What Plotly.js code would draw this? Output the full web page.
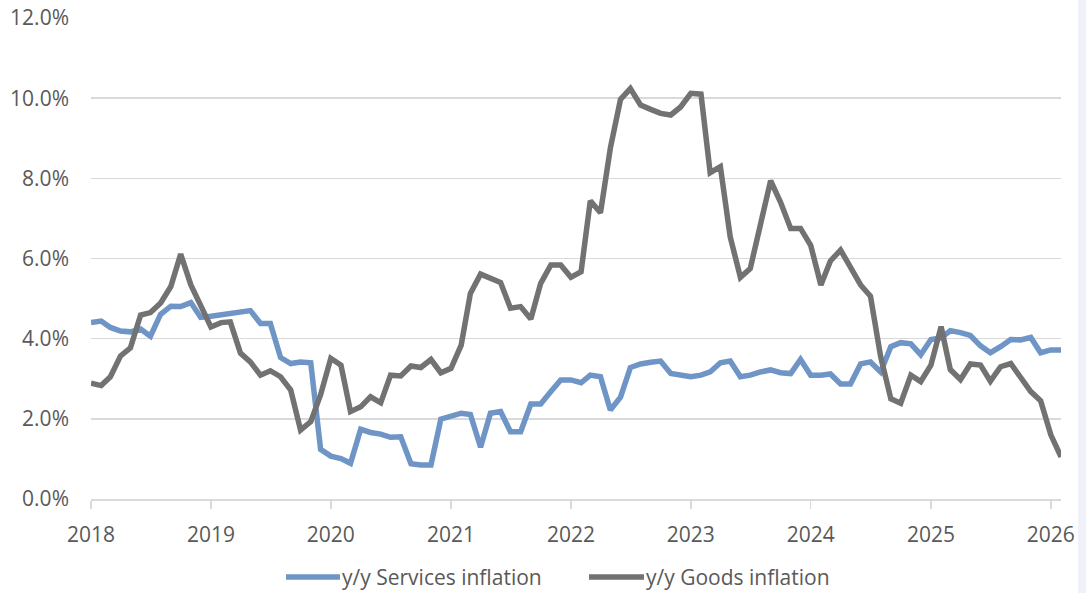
<!DOCTYPE html>
<html>
<head>
<meta charset="utf-8">
<script src="https://cdn.plot.ly/plotly-3.0.1.min.js"></script>
<style>html,body{margin:0;padding:0;background:#fff;}#chart{width:1086px;height:593px;}</style>
</head>
<body>
<div id="chart"></div>
<script>
// Monthly observations, Jan 2018 – Feb 2026
const startYear = 2018, startMonth = 1, nMonths = 98;
const services = [
  4.40, 4.44, 4.28, 4.19, 4.17, 4.24, 4.06, 4.61, 4.81, 4.80, 4.90, 4.53,
  4.56, 4.59, 4.65, 4.65, 4.70, 4.38, 4.38, 3.53, 3.38, 3.42, 3.40, 1.24,
  1.07, 1.01, 0.89, 1.74, 1.66, 1.62, 1.54, 1.55, 0.88, 0.85, 0.85, 1.99,
  2.07, 2.14, 2.11, 1.29, 2.14, 2.18, 1.68, 1.68, 2.37, 2.37, 2.68, 2.97,
  2.97, 2.90, 3.09, 3.05, 2.22, 2.54, 3.28, 3.37, 3.41, 3.44, 3.13, 3.09,
  3.05, 3.09, 3.17, 3.40, 3.44, 3.05, 3.09, 3.17, 3.22, 3.15, 3.13, 3.48,
  3.09, 3.09, 3.12, 2.87, 2.87, 3.37, 3.42, 3.17, 3.80, 3.90, 3.87, 3.60,
  3.98, 4.02, 4.20, 4.15, 4.08, 3.82, 3.65, 3.80, 3.98, 3.97, 4.03, 3.65,
  3.72, 3.72
];
const goods = [
  2.89, 2.83, 3.05, 3.57, 3.77, 4.59, 4.65, 4.89, 5.30, 6.11, 5.34, 4.80,
  4.29, 4.40, 4.42, 3.64, 3.42, 3.09, 3.20, 3.05, 2.72, 1.72, 1.93, 2.60,
  3.51, 3.34, 2.18, 2.30, 2.55, 2.40, 3.09, 3.07, 3.32, 3.28, 3.48, 3.15,
  3.26, 3.84, 5.13, 5.61, 5.50, 5.40, 4.76, 4.80, 4.49, 5.38, 5.84, 5.84,
  5.53, 5.67, 7.44, 7.14, 8.75, 9.97, 10.24, 9.83, 9.72, 9.62, 9.58, 9.78,
  10.12, 10.10, 8.14, 8.29, 6.54, 5.53, 5.75, 6.87, 7.94, 7.41, 6.75, 6.75,
  6.33, 5.34, 5.94, 6.21, 5.79, 5.34, 5.06, 3.55, 2.50, 2.39, 3.09, 2.93,
  3.34, 4.30, 3.23, 2.98, 3.37, 3.34, 2.94, 3.30, 3.38, 3.01, 2.68, 2.45,
  1.60, 1.05
];
const seriesNames = ['y/y Services inflation', 'y/y Goods inflation'];
const seriesColors = ['#6e95c5', '#727272'];
const yearTicks = ['2018','2019','2020','2021','2022','2023','2024','2025','2026'];

function monthDate(i){
  const m0 = startMonth - 1 + i;
  const y = startYear + Math.floor(m0 / 12);
  const m = (m0 % 12) + 1;
  return y + '-' + String(m).padStart(2,'0') + '-01';
}
const dates = [];
for (let i = 0; i < nMonths; i++) dates.push(monthDate(i));

const FONT = '"Open Sans", "DejaVu Sans", sans-serif';
const TXT = '#595959';
const FS = 21;

const traces = [
  {x: dates, y: services, name: seriesNames[0], type: 'scatter', mode: 'lines',
   line: {color: seriesColors[0], width: 5.5}},
  {x: dates, y: goods, name: seriesNames[1], type: 'scatter', mode: 'lines',
   line: {color: seriesColors[1], width: 5.5}}
];

// legend drawn as line samples + text (paper coordinates)
const legY = -0.1622;
const legItems = [
  {x0: 0.2010, x1: 0.2567, tx: 0.2578},
  {x0: 0.5134, x1: 0.5701, tx: 0.5712}
];
const legendShapes = legItems.map((p, i) => ({
  type: 'line', xref: 'paper', yref: 'paper', x0: p.x0, x1: p.x1, y0: legY, y1: legY,
  line: {color: seriesColors[i], width: 5.5}
}));
const legendAnn = legItems.map((p, i) => ({
  xref: 'paper', yref: 'paper', x: p.tx, y: legY, xanchor: 'left', yanchor: 'middle',
  text: seriesNames[i], showarrow: false, borderpad: 0,
  font: {family: FONT, size: 21, color: TXT}
}));

const layout = {
  width: 1086, height: 593,
  margin: {l: 91, r: 25, t: 18, b: 94, autoexpand: false},
  paper_bgcolor: '#ffffff', plot_bgcolor: '#ffffff',
  font: {family: FONT, size: FS, color: TXT},
  showlegend: false,
  xaxis: {
    type: 'date',
    range: [dates[0], dates[nMonths - 1]],
    tickmode: 'array',
    tickvals: yearTicks.map(y => y + '-01-01'),
    ticktext: yearTicks,
    showgrid: false,
    showline: true, linecolor: '#d9d9d9', linewidth: 1.5,
    ticks: 'outside', ticklen: 8, tickcolor: '#d9d9d9', tickwidth: 1.5,
    tickfont: {family: FONT, size: FS, color: TXT},
    ticklabelstandoff: 8,
    zeroline: false, fixedrange: true
  },
  yaxis: {
    range: [0, 12],
    tickmode: 'linear', tick0: 0, dtick: 2,
    tickformat: '.1f', ticksuffix: '%',
    showgrid: true, gridcolor: '#d9d9d9', gridwidth: 1.5,
    showline: false, zeroline: false,
    ticks: '', ticklabelstandoff: 21,
    tickfont: {family: FONT, size: FS, color: TXT},
    fixedrange: true
  },
  annotations: legendAnn,
  shapes: [
    {type: 'rect', xref: 'paper', yref: 'paper', x0: 1.0175, x1: 1.05, y0: -0.2, y1: 1.05,
     fillcolor: '#eef2f8', line: {width: 0}, layer: 'below'}
  ].concat(legendShapes)
};

Plotly.newPlot('chart', traces, layout, {displayModeBar: false, staticPlot: true});
</script>
</body>
</html>
